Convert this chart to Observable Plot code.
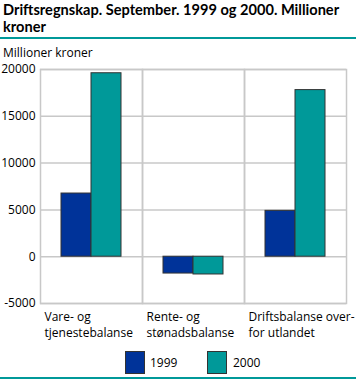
<!DOCTYPE html>
<html>
<head>
<meta charset="utf-8">
<script src="https://cdn.jsdelivr.net/npm/d3@7"></script>
<script src="https://cdn.jsdelivr.net/npm/@observablehq/plot@0.6"></script>
<style>
  body { margin: 0; background: #fff; font-family: "Open Sans", sans-serif; color: #000; }
  #wrap { position: relative; width: 356px; height: 379px; overflow: hidden; }
  #title { position: absolute; left: 3px; top: 1px; width: 350px; font-family: Lato, "Open Sans", sans-serif; font-weight: bold; font-size: 14.6px; line-height: 17px; }
  .teal { position: absolute; left: 0; width: 356px; height: 2px; background: #009999; }
  #ylab { position: absolute; left: 3px; top: 44px; font-size: 12px; }
  #chart { position: absolute; left: 0; top: 40px; }
  .sw { position: absolute; width: 18px; height: 21px; border: 1px solid #333; }
  .lg { position: absolute; font-size: 12px; top: 354px; }
</style>
</head>
<body>
<div id="wrap">
  <div id="title"></div>
  <div class="teal" style="top:37px"></div>
  <div id="ylab"></div>
  <div id="chart"></div>
  <div id="legend"></div>
  <div class="teal" style="top:377px"></div>
</div>
<script>
const titleText = "Driftsregnskap. September. 1999 og 2000. Millioner kroner";
const yLabel = "Millioner kroner";
const categories = ["Vare- og\ntjenestebalanse", "Rente- og\nstønadsbalanse", "Driftsbalanse over-\nfor utlandet"];
const years = ["1999", "2000"];
const values1999 = [6750, -1800, 4900];
const values2000 = [19600, -1900, 17800];
const yTicks = [-5000, 0, 5000, 10000, 15000, 20000];
const colors = ["#003399", "#009999"];

document.getElementById("title").textContent = titleText;
document.getElementById("ylab").textContent = yLabel;

const data = [];
categories.forEach((c, i) => {
  data.push({cat: c, year: years[0], value: values1999[i]});
  data.push({cat: c, year: years[1], value: values2000[i]});
});

const chart = Plot.plot({
  width: 356,
  height: 300,
  marginLeft: 40,
  marginRight: 10,
  marginTop: 29,
  marginBottom: 37,
  style: {fontFamily: "Open Sans, sans-serif", fontSize: "12px", color: "#000", background: "transparent"},
  fx: {domain: categories, padding: 0, label: null},
  x: {domain: years, paddingInner: 0, paddingOuter: 0.7, axis: null},
  y: {domain: [-5000, 20000], label: null},
  color: {domain: years, range: colors},
  marks: [
    Plot.gridY(yTicks, {stroke: "#c8c8c8", strokeOpacity: 1, strokeWidth: 1.5}),
    Plot.frame({stroke: "#c8c8c8", strokeWidth: 1.5}),
    Plot.barY(data, {fx: "cat", x: "year", y: "value", fill: "year", stroke: "#333", strokeWidth: 1}),
    Plot.axisY(yTicks, {tickSize: 0, tickPadding: 5, tickFormat: d => String(d), label: null, fontSize: 12}),
    Plot.axisFx({anchor: "bottom", tickSize: 0, tickPadding: 6, textAnchor: "start", dx: -47, lineHeight: 1.33, label: null, fontSize: 12})
  ]
});
document.getElementById("chart").appendChild(chart);

const legend = document.getElementById("legend");
const swLeft = [125, 207];
const lbLeft = [150, 233];
years.forEach((y, i) => {
  const s = document.createElement("div");
  s.className = "sw";
  s.style.left = swLeft[i] + "px";
  s.style.top = "351px";
  s.style.background = colors[i];
  legend.appendChild(s);
  const t = document.createElement("div");
  t.className = "lg";
  t.style.left = lbLeft[i] + "px";
  t.textContent = y;
  legend.appendChild(t);
});
</script>
</body>
</html>
